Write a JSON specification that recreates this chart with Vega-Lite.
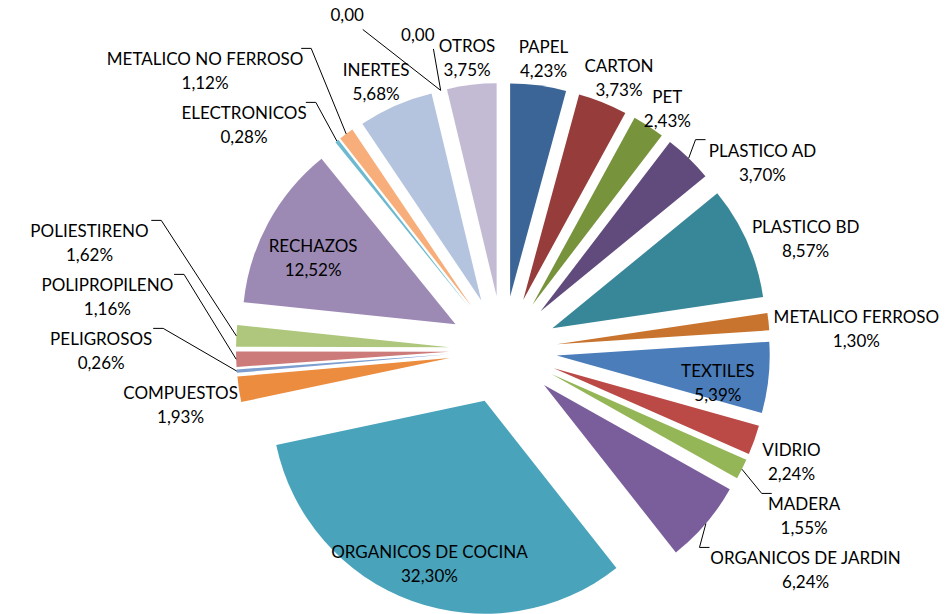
{
  "$schema": "https://vega.github.io/schema/vega-lite/v6.json",
  "width": 947,
  "height": 614,
  "autosize": {"type": "fit", "contains": "padding"},
  "padding": 0,
  "background": "white",
  "config": {"view": {"stroke": null}},
  "data": {
    "values": [
      {"cat": "PAPEL", "value": 4.23},
      {"cat": "CARTON", "value": 3.73},
      {"cat": "PET", "value": 2.43},
      {"cat": "PLASTICO AD", "value": 3.70},
      {"cat": "PLASTICO BD", "value": 8.57},
      {"cat": "METALICO FERROSO", "value": 1.30},
      {"cat": "TEXTILES", "value": 5.39},
      {"cat": "VIDRIO", "value": 2.24},
      {"cat": "MADERA", "value": 1.55},
      {"cat": "ORGANICOS DE JARDIN", "value": 6.24},
      {"cat": "ORGANICOS DE COCINA", "value": 32.30},
      {"cat": "COMPUESTOS", "value": 1.93},
      {"cat": "PELIGROSOS", "value": 0.26},
      {"cat": "POLIPROPILENO", "value": 1.16},
      {"cat": "POLIESTIRENO", "value": 1.62},
      {"cat": "RECHAZOS", "value": 12.52},
      {"cat": "ELECTRONICOS", "value": 0.28},
      {"cat": "METALICO NO FERROSO", "value": 1.12},
      {"cat": "INERTES", "value": 5.68},
      {"cat": "", "value": 0},
      {"cat": " ", "value": 0},
      {"cat": "OTROS", "value": 3.75}
    ]
  },
  "transform": [
    {"window": [{"op": "row_number", "as": "idx"}]},
    {"stack": "value", "groupby": [], "sort": [{"field": "idx", "order": "ascending"}], "as": ["v0", "v1"]},
    {"calculate": "(datum.v0 + datum.v1) / 2", "as": "vm"},
    {"calculate": "datum.vm * 3.6", "as": "md"},
    {"calculate": "datum.vm / 100 * 2 * PI", "as": "m"},
    {"calculate": "sin(datum.m)", "as": "sn"},
    {"calculate": "cos(datum.m)", "as": "cs"},
    {"calculate": "replace(format(datum.value, '.2f'), '.', ',')", "as": "pct"},
    {"calculate": "datum.value == 0 ? datum.pct : datum.cat + '\\n' + datum.pct + '%'", "as": "lab"},
    {"calculate": "datum.value == 0 ? 4 * 9.8 : max(length(datum.cat), length(datum.pct) + 1) * 9.8", "as": "w"},
    {"calculate": "datum.value == 0 ? 24 : 48", "as": "h"},
    {"calculate": "datum.value >= 10 || ((datum.w * abs(datum.cs) + datum.h * abs(datum.sn)) <= 2 * 162 * tan(datum.value / 100 * PI) * 1.15 && 162 + (datum.w * abs(datum.sn) + datum.h * abs(datum.cs)) / 2 <= 213)", "as": "inside"},
    {"calculate": "54 * datum.sn", "as": "ex"},
    {"calculate": "-54 * datum.cs", "as": "ey"},
    {"calculate": "datum.value == 0 ? 1 : 0", "as": "zero"},
    {"window": [{"op": "row_number", "as": "zr"}], "groupby": ["zero"], "sort": [{"field": "idx", "order": "ascending"}]},
    {"calculate": "(datum.value == 0 ? 287 + 20 * datum.zr : 277) + (datum.md < 30 || datum.md > 330 ? 4 : 0)", "as": "rl"},
    {"calculate": "datum.rl * datum.sn + datum.w / 2 * datum.sn - (datum.value == 0 ? 8 + (datum.zr - 1) * 66 : 0)", "as": "rcx"},
    {"calculate": "-datum.rl * datum.cs - datum.h / 2 * datum.cs", "as": "rcy"},
    {"calculate": "datum.inside ? 'I' : (datum.md >= 30 && datum.md <= 150) ? 'R' : (datum.md >= 210 && datum.md < 330) ? 'L' : 'T'", "as": "grp"},
    {"window": [{"op": "row_number", "as": "rk"}], "groupby": ["grp"], "sort": [{"field": "md", "order": "ascending"}]},
    {"calculate": "(datum.grp == 'L' ? -datum.rcy : datum.rcy) - datum.rk * 54", "as": "t"},
    {"window": [{"op": "max", "field": "t", "as": "cm"}], "groupby": ["grp"], "sort": [{"field": "md", "order": "ascending"}], "frame": [null, 0]},
    {"calculate": "datum.cm + datum.rk * 54", "as": "ps"},
    {"calculate": "datum.grp == 'R' ? datum.ps : datum.grp == 'L' ? -datum.ps : datum.rcy", "as": "ncy"},
    {"calculate": "abs(datum.ncy - datum.rcy)", "as": "push"},
    {"calculate": "datum.sn >= 0 ? 1 : -1", "as": "sg"},
    {"calculate": "datum.value > 0 && datum.value < 0.5 ? 50 : 0", "as": "tiny"},
    {"calculate": "datum.inside ? 216 * datum.sn : datum.rcx + datum.sg * (datum.push * (0.7 + 1.3 * abs(datum.cs)) + datum.tiny)", "as": "lx"},
    {"calculate": "datum.inside ? -216 * datum.cs : datum.ncy", "as": "ly"},
    {"calculate": "267 * datum.sn", "as": "p1x"},
    {"calculate": "-267 * datum.cs", "as": "p1y"},
    {"calculate": "datum.value == 0 ? datum.lx + datum.w / 2 - 4 : datum.lx - datum.sg * (datum.w / 2 + 3)", "as": "p3x"},
    {"calculate": "datum.value == 0 ? datum.ly + datum.h / 2 + 1 : datum.ly - 12", "as": "p3y"},
    {"calculate": "datum.value == 0 ? datum.p3x : datum.p3x - datum.sg * 10", "as": "p2x"},
    {"calculate": "datum.p3y", "as": "p2y"},
    {"calculate": "!datum.inside && (datum.value == 0 || ((datum.grp == 'L' || datum.grp == 'R') && (datum.push > 4 || datum.tiny > 0)))", "as": "lead"}
  ],
  "layer": [
    {
      "mark": {"type": "arc", "radius": 213},
      "encoding": {
        "x": {"field": "ex", "type": "quantitative", "scale": {"domain": [-503, 444], "nice": false, "zero": false}, "axis": null},
        "y": {"field": "ey", "type": "quantitative", "scale": {"domain": [-350, 264], "nice": false, "zero": false, "reverse": true}, "axis": null},
        "theta": {"field": "v0", "type": "quantitative", "stack": null, "scale": {"domain": [0, 100], "range": [0, 6.283185307179586]}},
        "theta2": {"field": "v1"},
        "color": {
          "field": "cat",
          "type": "nominal",
          "legend": null,
          "scale": {
            "domain": ["PAPEL", "CARTON", "PET", "PLASTICO AD", "PLASTICO BD", "METALICO FERROSO", "TEXTILES", "VIDRIO", "MADERA", "ORGANICOS DE JARDIN", "ORGANICOS DE COCINA", "COMPUESTOS", "PELIGROSOS", "POLIPROPILENO", "POLIESTIRENO", "RECHAZOS", "ELECTRONICOS", "METALICO NO FERROSO", "INERTES", "", " ", "OTROS"],
            "range": ["#3B6597", "#963C3A", "#77933C", "#614A7C", "#388799", "#C8742F", "#4A7DBA", "#BB4A47", "#94B656", "#7A5E9C", "#49A3BB", "#EB8C3F", "#7C9ED0", "#CC7B7A", "#AEC77D", "#9C8AB5", "#6DBAD0", "#F7AE7A", "#B4C4DF", "#999999", "#999999", "#C3BAD3"]
          }
        }
      }
    },
    {
      "transform": [{"filter": "datum.lead"}],
      "mark": {"type": "rule", "color": "#000000", "strokeWidth": 1},
      "encoding": {
        "x": {"field": "p1x", "type": "quantitative"},
        "y": {"field": "p1y", "type": "quantitative"},
        "x2": {"field": "p2x"},
        "y2": {"field": "p2y"}
      }
    },
    {
      "transform": [{"filter": "datum.lead"}],
      "mark": {"type": "rule", "color": "#000000", "strokeWidth": 1},
      "encoding": {
        "x": {"field": "p2x", "type": "quantitative"},
        "y": {"field": "p2y", "type": "quantitative"},
        "x2": {"field": "p3x"},
        "y2": {"field": "p3y"}
      }
    },
    {
      "mark": {"type": "text", "font": "Lato", "fontSize": 17, "lineHeight": 24, "lineBreak": "\n", "align": "center", "baseline": "middle", "color": "#000000"},
      "encoding": {
        "x": {"field": "lx", "type": "quantitative"},
        "y": {"field": "ly", "type": "quantitative"},
        "text": {"field": "lab"}
      }
    }
  ]
}
